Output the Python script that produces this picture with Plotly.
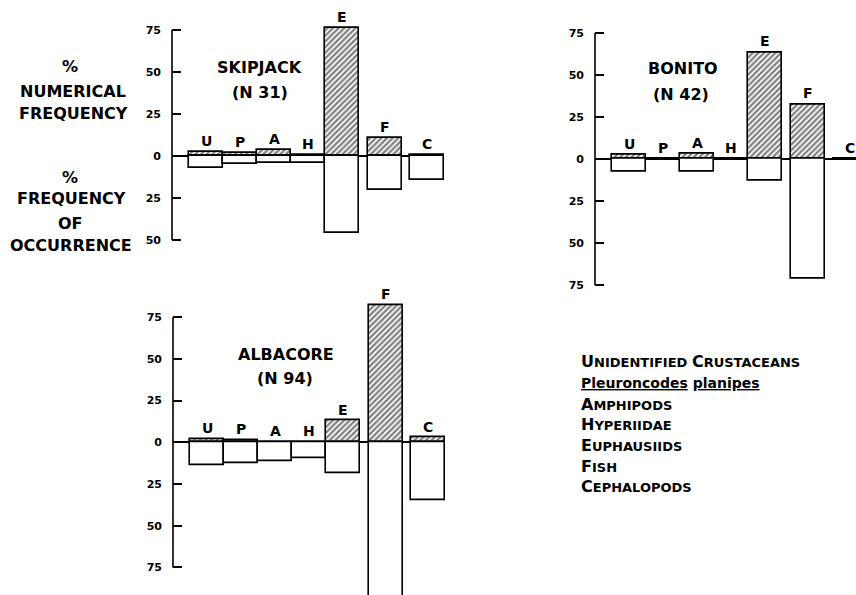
import plotly.graph_objects as go

# ---------------- data ----------------
codes = ["U", "P", "A", "H", "E", "F", "C"]
legend_names = ["UNIDENTIFIED CRUSTACEANS", "Pleuroncodes planipes", "AMPHIPODS",
                "HYPERIIDAE", "EUPHAUSIIDS", "FISH", "CEPHALOPODS"]

skipjack_num = [2.5, 2.0, 3.5, 0.5, 76, 11, 0.5]
skipjack_occ = [7, 4.5, 4, 4, 46, 20.5, 14]
bonito_num = [2.5, 0, 3, 0, 63.5, 32.5, 0]
bonito_occ = [7.5, 0, 7.5, 0, 13, 71, 0]
albacore_num = [1.8, 1.5, 0, 0, 13, 82.5, 2.8]
albacore_occ = [13.5, 12.5, 11.5, 9.5, 18.5, 95, 34.5]

tick_vals_full = [-75, -50, -25, 0, 25, 50, 75]
tick_text_full = ["75", "50", "25", "0", "25", "50", "75"]

# ---------------- layout helpers ----------------
W, H = 856, 595
FONT = "DejaVu Sans"
slot = [0, 1, 2, 3, 4, 5.25, 6.5]   # bar slots along x (layout)


def dx(px):
    return px / W


def dy(px):
    return 1 - px / H


panels = [
    dict(name="SKIPJACK", n="(N 31)", num=skipjack_num, occ=skipjack_occ,
         xpx=(172, 444), xr=(-1, 7), zero=156, scale=1.68, yr=(-52, 78), spine=(-50, 75),
         tpos=(259, 67), npos=(260, 92)),
    dict(name="BONITO", n="(N 42)", num=bonito_num, occ=bonito_occ,
         xpx=(595, 856), xr=(-1, (856 - 595) / 34 - 1), zero=159, scale=1.68, yr=(-77, 77),
         spine=(-75, 75), tpos=(683, 68), npos=(681, 94)),
    dict(name="ALBACORE", n="(N 94)", num=albacore_num, occ=albacore_occ,
         xpx=(173, 445), xr=(-1, 7), zero=442.3, scale=1.668, yr=(-91.5, 87),
         spine=(-75, 75), tpos=(286, 354), npos=(285, 378)),
]

fig = go.Figure()
annotations = []
shapes = []

for i, p in enumerate(panels, start=1):
    xa = "x" if i == 1 else f"x{i}"
    ya = "y" if i == 1 else f"y{i}"
    top_px = p["zero"] - p["yr"][1] * p["scale"]
    bot_px = p["zero"] - p["yr"][0] * p["scale"]

    fig.add_trace(go.Bar(
        x=slot, y=p["num"], width=1.0, xaxis=xa, yaxis=ya,
        marker=dict(color="white", line=dict(color="black", width=1.6),
                    pattern=dict(shape="/", fgcolor="black", bgcolor="white",
                                 size=4, solidity=0.55)),
        showlegend=False, hoverinfo="skip"))
    fig.add_trace(go.Bar(
        x=slot, y=[-v for v in p["occ"]], width=1.0, xaxis=xa, yaxis=ya,
        marker=dict(color="white", line=dict(color="black", width=1.6)),
        showlegend=False, hoverinfo="skip"))

    lo, hi = p["spine"]
    tv = [t for t in tick_vals_full if lo <= t <= hi]
    tt = [tick_text_full[tick_vals_full.index(t)] for t in tv]

    fig.update_layout(**{
        ("xaxis" if i == 1 else f"xaxis{i}"): dict(
            domain=[dx(p["xpx"][0]), dx(p["xpx"][1])], range=list(p["xr"]),
            visible=False, anchor=ya),
        ("yaxis" if i == 1 else f"yaxis{i}"): dict(
            domain=[dy(bot_px), dy(top_px)], range=list(p["yr"]), anchor=xa,
            tickvals=tv, ticktext=tt, ticks="inside", ticklen=9, tickwidth=1.5,
            tickcolor="black", showgrid=False, zeroline=True, zerolinecolor="black",
            zerolinewidth=1.8, showline=False, ticklabelstandoff=10, automargin=False,
            tickfont=dict(family=FONT, size=11, color="black", weight="bold")),
    })

    # vertical axis spine between the extreme ticks
    shapes.append(dict(type="line", xref=f"{xa} domain", yref=ya, x0=0, x1=0,
                       y0=lo, y1=hi, line=dict(color="black", width=1.6)))

    # category letters above bars
    for c, xs, v in zip(codes, slot, p["num"]):
        annotations.append(dict(x=xs, y=max(v, 0), xref=xa, yref=ya, text=c,
                                showarrow=False, xanchor="center", yanchor="middle", yshift=11,
                                font=dict(family=FONT, size=14, color="black", weight="bold")))

    # panel titles
    annotations.append(dict(x=dx(p["tpos"][0]), y=dy(p["tpos"][1]), xref="paper", yref="paper",
                            text=p["name"], showarrow=False, xanchor="center", yanchor="middle",
                            font=dict(family=FONT, size=16, color="black", weight="bold")))
    annotations.append(dict(x=dx(p["npos"][0]), y=dy(p["npos"][1]), xref="paper", yref="paper",
                            text=p["n"], showarrow=False, xanchor="center", yanchor="middle",
                            font=dict(family=FONT, size=16, color="black", weight="bold")))

# left-hand axis descriptions
left_labels = [("%", 70, 66), ("NUMERICAL", 73, 91), ("FREQUENCY", 73, 114),
               ("%", 70, 177), ("FREQUENCY", 71, 199), ("OF", 70, 223), ("OCCURRENCE", 71, 246)]
for t, x, y in left_labels:
    annotations.append(dict(x=dx(x), y=dy(y), xref="paper", yref="paper", text=t,
                            showarrow=False, xanchor="center", yanchor="middle",
                            font=dict(family=FONT, size=16, color="black", weight="bold")))


# key of abbreviations (first letters larger, small-caps look)
def small_caps(name):
    words = name.split(" ")
    return " ".join(f"<span style='font-size:16px'>{w[0]}</span>{w[1:]}" for w in words)


key_y = [362, 383, 404, 424, 445, 466, 486]
for name, y in zip(legend_names, key_y):
    if any(ch.islower() for ch in name):
        txt = " ".join(f"<u>{w}</u>" for w in name.split(" "))
        size = 14
    else:
        txt = small_caps(name)
        size = 13
    annotations.append(dict(x=dx(579), y=dy(y), xref="paper", yref="paper", text=txt,
                            showarrow=False, xanchor="left", yanchor="middle",
                            font=dict(family=FONT, size=size, color="black", weight="bold")))

fig.update_layout(
    width=W, height=H, margin=dict(l=0, r=0, t=0, b=0, autoexpand=False),
    paper_bgcolor="white", plot_bgcolor="white",
    barmode="overlay", bargap=0, showlegend=False,
    annotations=annotations, shapes=shapes,
)

fig.write_html(
    "out.html",
    config={"displayModeBar": False},
    post_script="document.body.style.margin='0';document.body.style.overflow='hidden';",
)
